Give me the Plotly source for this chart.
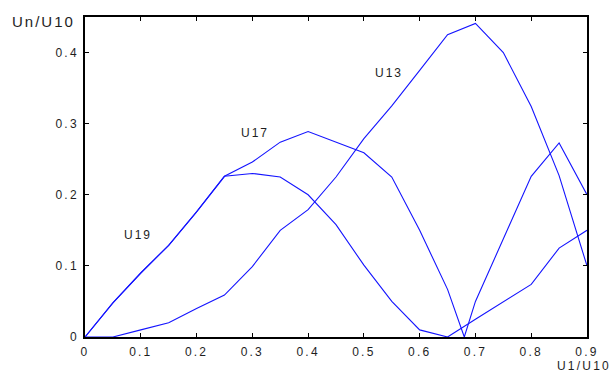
import plotly.graph_objects as go

# Ratio U1/U10 (x) and harmonic ratios Un/U10 for each harmonic
x_u13 = [0, 0.05, 0.1, 0.15, 0.2, 0.25, 0.3, 0.35, 0.4, 0.45, 0.5, 0.55, 0.6, 0.65, 0.7, 0.75, 0.8, 0.85, 0.9]
y_u13 = [0, 0, 0.01, 0.02, 0.04, 0.059, 0.099, 0.15, 0.179, 0.225, 0.279, 0.325, 0.375, 0.425, 0.441, 0.40, 0.324, 0.227, 0.10]

x_u17 = [0, 0.05, 0.1, 0.15, 0.2, 0.25, 0.3, 0.35, 0.4, 0.5, 0.55, 0.6, 0.65, 0.68, 0.7, 0.8, 0.85, 0.9]
y_u17 = [0, 0.048, 0.09, 0.129, 0.176, 0.226, 0.246, 0.274, 0.289, 0.259, 0.225, 0.15, 0.067, 0, 0.05, 0.226, 0.273, 0.20]

x_u19 = [0, 0.05, 0.1, 0.15, 0.2, 0.25, 0.3, 0.35, 0.4, 0.45, 0.5, 0.55, 0.6, 0.65, 0.7, 0.75, 0.8, 0.85, 0.9]
y_u19 = [0, 0.048, 0.09, 0.129, 0.176, 0.226, 0.23, 0.225, 0.2, 0.158, 0.101, 0.05, 0.01, 0, 0.025, 0.05, 0.074, 0.125, 0.15]

x_ticks = [0, 0.1, 0.2, 0.3, 0.4, 0.5, 0.6, 0.7, 0.8, 0.9]
x_tick_text = ["0", "0.1", "0.2", "0.3", "0.4", "0.5", "0.6", "0.7", "0.8", "0.9"]
y_ticks = [0, 0.1, 0.2, 0.3, 0.4]
y_tick_text = ["0", "0.1", "0.2", "0.3", "0.4"]

# Curve labels placed next to each curve (data coordinates)
labels = ["U13", "U17", "U19"]
label_x = [0.545, 0.305, 0.095]
label_y = [0.371, 0.287, 0.143]

line_style = dict(color="rgb(20,20,255)", width=1.1)
font_family = "Liberation Sans, Arial, sans-serif"
text_color = "#1e1e1e"


def spaced(text, px):
    """Wrap text in a span with wider letter spacing."""
    return f'<span style="letter-spacing:{px}px">{text}</span>'


fig = go.Figure()
for xs, ys, name in [(x_u13, y_u13, "U13"), (x_u17, y_u17, "U17"), (x_u19, y_u19, "U19")]:
    fig.add_trace(go.Scatter(x=xs, y=ys, mode="lines", line=line_style, name=name,
                             showlegend=False, cliponaxis=False))

for t, lx, ly in zip(labels, label_x, label_y):
    fig.add_annotation(x=lx, y=ly, text=spaced(t, 2), showarrow=False, xref="x", yref="y",
                       font=dict(family=font_family, size=12, color=text_color))

# Axis captions: y caption at the top-left corner, x caption below the last tick
fig.add_annotation(x=0.0, y=1.0, xref="paper", yref="paper", text=spaced("Un/U10", 2),
                   showarrow=False, xanchor="left", yanchor="middle", xshift=-75, yshift=-4,
                   font=dict(family=font_family, size=15, color=text_color))
fig.add_annotation(x=1.0, y=0.0, xref="paper", yref="paper", text=spaced("U1/U10", 2.2),
                   showarrow=False, xanchor="left", yanchor="middle", yshift=-29, xshift=-32,
                   font=dict(family=font_family, size=12, color=text_color))

axis_common = dict(showgrid=False, zeroline=False, showline=True, linecolor="black",
                   linewidth=1.6, mirror="ticks", ticks="inside", ticklen=4,
                   tickcolor="black", tickfont=dict(family=font_family, size=12, color=text_color))

fig.update_layout(
    width=610, height=372,
    margin=dict(l=85, r=23, t=17, b=35),
    paper_bgcolor="white", plot_bgcolor="white",
    xaxis=dict(range=[0, 0.9], tickvals=x_ticks,
               ticktext=[spaced(t, 2.2) for t in x_tick_text],
               ticklabelstandoff=3, **axis_common),
    yaxis=dict(range=[0, 0.45], tickvals=y_ticks,
               ticktext=[spaced(t, 2.2) for t in y_tick_text],
               ticklabelstandoff=2, **axis_common),
)

fig.write_html("out.html")
